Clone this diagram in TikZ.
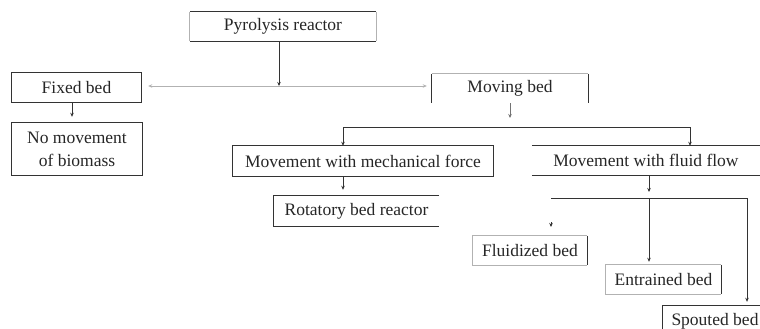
\documentclass[tikz,border=0pt]{standalone}
\usepackage{fontspec}
\setmainfont{Liberation Serif}
\usetikzlibrary{arrows.meta}
\begin{document}
\begin{tikzpicture}[x=1pt,y=-1pt,
  box/.style={inner sep=0pt, font=\fontsize{17.5}{23}\selectfont, align=center, text=black!85},
  dk/.style={draw=black!80, line width=0.9pt},
  lt/.style={draw=black!30, line width=0.8pt},
  tip/.style={-{Stealth[length=4pt,width=3.5pt]}},
 ]
\useasboundingbox (0,0) rectangle (760,329);
\clip (0,0) rectangle (760,329);

% boxes
\node[box, minimum width=186pt, minimum height=29pt] (pyro) at (283,26.5) {Pyrolysis reactor};
\node[box, minimum width=129pt, minimum height=29pt] (fixed) at (76.5,87.5) {Fixed bed};
\node[box, minimum width=130pt, minimum height=52pt] (nomove) at (77,149) {No movement\\of biomass};
\node[box, minimum width=156pt, minimum height=29pt] (moving) at (510,88.5) {Moving bed};
\node[box, minimum width=260pt, minimum height=30pt] (mech) at (363,161) {Movement with mechanical force};
\node[box, minimum width=228pt, minimum height=29pt] (fluid) at (646,160.5) {Movement with fluid flow};
\node[box, minimum width=165pt, minimum height=30pt] (rot) at (356.5,211) {Rotatory bed reactor};
\node[box, minimum width=114pt, minimum height=29pt] (fluidized) at (530,250.5) {Fluidized bed};
\node[box, minimum width=115pt, minimum height=29pt] (entrained) at (663.5,279.5) {Entrained bed};
\node[box, minimum width=104pt, minimum height=30pt] (spouted) at (715,321) {Spouted bed};

% box outlines
\draw[dk] (pyro.north west) -- (pyro.north east) (pyro.south west) -- (pyro.south east);
\draw[lt] (pyro.north west) -- (pyro.south west) (pyro.north east) -- (pyro.south east);
\draw[dk] (fixed.north west) rectangle (fixed.south east);
\draw[dk] (nomove.north west) rectangle (nomove.south east);
\draw[lt] (moving.north west) -- (moving.north east);
\draw[dk] (moving.north west) -- (moving.south west) (moving.north east) -- (moving.south east);
\draw[dk] (mech.north west) rectangle (mech.south east);
\draw[dk] (fluid.north west) -- (fluid.north east) (fluid.south west) -- (fluid.south east);
\draw[dk] (rot.north east) -- (rot.north west) -- (rot.south west) -- (rot.south east);
\draw[lt] (fluidized.north east) -- (fluidized.north west) -- (fluidized.south west) -- (fluidized.south east);
\draw[dk] (fluidized.north east) -- (fluidized.south east);
\draw[lt] (entrained.north east) -- (entrained.north west) -- (entrained.south west) -- (entrained.south east);
\draw[dk] (entrained.north east) -- (entrained.south east);
\draw[dk] (spouted.south west) -- (spouted.north west) -- (spouted.north east);

% connectors
\coordinate (j1) at (279,86);
\draw[dk,tip] ([xshift=-4pt]pyro.south) -- (j1);
\draw[lt,tip,shorten >=7pt] (j1) -- (j1 -| fixed.east);
\draw[lt,tip,shorten >=5pt] (j1) -- (j1 -| moving.west);

\coordinate (fa) at ([xshift=-4.5pt]fixed.south);
\draw[dk,tip,shorten >=6pt] (fa) -- (fa |- nomove.north);

\coordinate (j2) at (510,127);
\draw[lt,draw=black!55,tip,shorten >=9pt] (moving.south) -- (j2);
\draw[dk,tip] (j2) -| ([xshift=-20pt]mech.north);
\draw[dk,tip] (j2) -| ([xshift=44pt]fluid.north);

\coordinate (ma) at ([xshift=-20pt]mech.south);
\draw[dk,tip,shorten >=6pt] (ma) -- (ma |- rot.north);

\coordinate (j3) at (649,198);
\coordinate (j3l) at (551,198);
\coordinate (j3r) at (747,198);
\draw[dk,tip,shorten >=6pt] ([xshift=3pt]fluid.south) -- (j3);
\draw[dk] (j3l) -- (j3r);
\draw[dk,tip,shorten >=3pt] (j3) -- (j3 |- entrained.north);
\draw[dk,tip,shorten >=4pt] (j3r) -- (j3r |- spouted.north);
\draw[dk,tip] ([yshift=-24pt]j3l) -- ([yshift=-29pt]j3l);
\end{tikzpicture}
\end{document}
